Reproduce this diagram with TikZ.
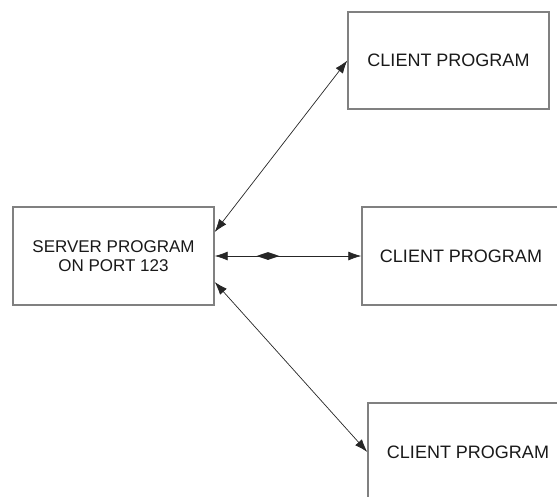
\documentclass[tikz,border=0pt]{standalone}
\usepackage{fontspec}
\setmainfont{Liberation Sans}
\usetikzlibrary{arrows.meta,calc,shapes.geometric}
\begin{document}
\begin{tikzpicture}[x=1pt,y=-1pt,
  box/.style={draw=black!50,line width=1.4pt,fill=white,inner sep=0pt,
    minimum height=98pt,align=center,font=\fontsize{18}{19}\selectfont,text=black!90},
  link/.style={line width=0.7pt,draw=black!85,{Latex[length=13pt,width=9pt]}-{Latex[length=13pt,width=9pt]}}]
\useasboundingbox (0,0) rectangle (557,496);
\node[box,minimum width=201pt,font=\fontsize{17}{19}\selectfont] (srv) at (113.5,256) {SERVER PROGRAM\\ON PORT 123};
\node[box,minimum width=201pt,minimum height=97pt] (c1) at (448.5,60.5) {CLIENT PROGRAM};
\node[box,minimum width=198pt] (c2) at (461,256) {CLIENT PROGRAM};
\node[box,minimum width=200pt] (c3) at (468,452) {CLIENT PROGRAM};
\draw[link] ($(srv.east)+(0,-24)$) -- (c1.west);
\draw[link] (srv.east) -- (c2.west);
\draw[link] ($(srv.east)+(0,26)$) -- (c3.west);
\node[diamond,fill=black!85,inner sep=0pt,minimum width=23pt,minimum height=8pt] (dia) at (268,256) {};
\end{tikzpicture}
\end{document}
